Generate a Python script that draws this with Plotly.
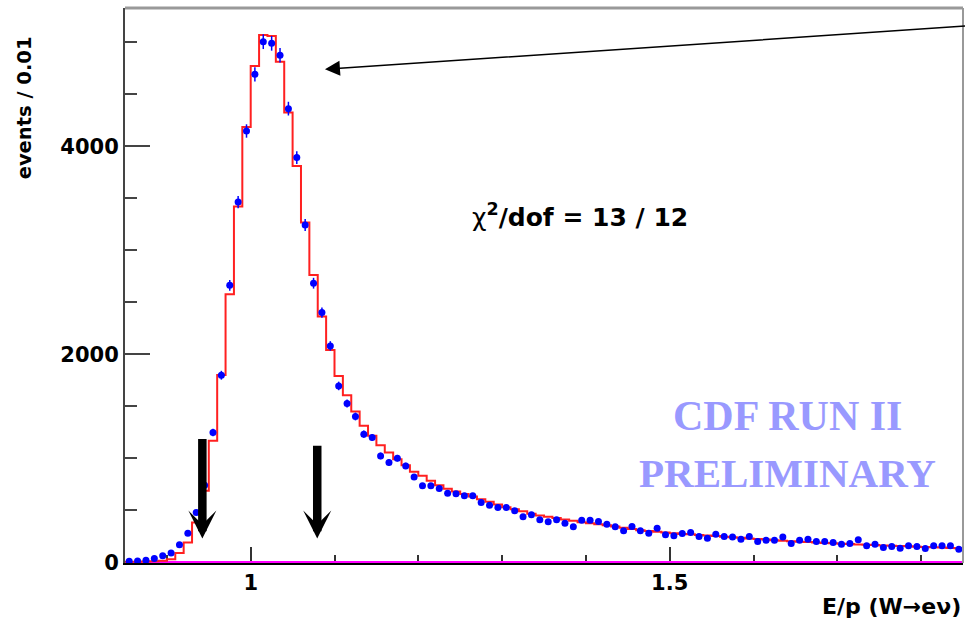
import numpy as np
import plotly.graph_objects as go

# ---- histogram definition (E/p, 100 bins of 0.01 from 0.85 to 1.85) ----
bin_low = 0.85
bin_width = 0.01

# data points (events / 0.01)
data_counts = [
    10, 12, 19, 35, 61, 87, 167, 279, 478, 740,
    1247, 1798, 2663, 3464, 4147, 4692, 5006, 4990, 4875, 4362,
    3891, 3243, 2683, 2401, 2080, 1695, 1526, 1401, 1231, 1199,
    1022, 959, 1000, 926, 820, 734, 734, 708, 663, 657,
    638, 638, 574, 548, 526, 526, 494, 436, 455, 407,
    388, 407, 375, 340, 404, 404, 391, 365, 340, 301,
    343, 301, 279, 327, 263, 253, 276, 285, 247, 231,
    269, 247, 243, 221, 247, 199, 212, 212, 243, 180,
    212, 221, 199, 199, 189, 173, 180, 215, 157, 173,
    141, 151, 135, 157, 151, 131, 157, 157, 157, 125,
]

# fitted template (red histogram)
fit_counts = [
    3, 4, 6, 9, 14, 29, 87, 189, 381, 686,
    1167, 1801, 2577, 3420, 4186, 4772, 5070, 5060, 4814, 4324,
    3811, 3266, 2763, 2362, 2041, 1791, 1606, 1449, 1311, 1215,
    1125, 1054, 990, 933, 870, 830, 782, 740, 705, 680,
    655, 632, 605, 580, 555, 528, 508, 490, 465, 450,
    437, 425, 410, 398, 385, 375, 365, 355, 343, 330,
    318, 308, 300, 292, 285, 278, 272, 268, 262, 257,
    252, 245, 240, 234, 228, 222, 217, 212, 207, 202,
    197, 193, 189, 185, 181, 178, 174, 170, 167, 164,
    161, 158, 155, 152, 149, 146, 143, 140, 137, 134,
]

# background component (magenta, compatible with zero)
background_counts = [0] * 100

x_ticks_major = [1.0, 1.5]
y_ticks_major = [0, 2000, 4000]

n_bins = len(data_counts)
centers = bin_low + bin_width * (np.arange(n_bins) + 0.5)
edges = bin_low + bin_width * np.arange(n_bins + 1)
errors = np.sqrt(np.array(data_counts, dtype=float))

fig = go.Figure()

# magenta background line
fig.add_trace(go.Scatter(
    x=edges, y=list(background_counts) + [background_counts[-1]],
    mode="lines", line=dict(color="#ff00ff", width=2.5, shape="hv"),
    hoverinfo="skip", showlegend=False, cliponaxis=False,
))

# red fit histogram
fig.add_trace(go.Scatter(
    x=edges, y=list(fit_counts) + [fit_counts[-1]],
    mode="lines", line=dict(color="#ff2020", width=2, shape="hv"),
    showlegend=False,
))

# blue data points with errors
fig.add_trace(go.Scatter(
    x=centers, y=data_counts, mode="markers",
    marker=dict(color="#0000ff", size=7, symbol="circle"),
    error_y=dict(type="data", array=errors, color="#0000ff", thickness=1.5, width=0),
    showlegend=False,
))

tick_font = dict(family="DejaVu Sans", size=21, color="black", weight="bold")

fig.update_layout(
    width=965, height=625,
    margin=dict(l=125, r=2, t=8, b=62),
    paper_bgcolor="white", plot_bgcolor="white",
    xaxis=dict(
        range=[bin_low, bin_low + bin_width * n_bins],
        tickmode="array", tickvals=x_ticks_major,
        ticktext=["1", "1.5"],
        ticks="inside", ticklen=16, tickwidth=2, tickcolor="#333",
        minor=dict(dtick=0.1, tick0=0, ticks="inside", ticklen=8, tickwidth=2, tickcolor="#333"),
        showgrid=False, zeroline=False,
        showline=True, linecolor="black", linewidth=2,
        tickfont=tick_font, layer="below traces",
    ),
    yaxis=dict(
        range=[-8, 5330],
        tickmode="array", tickvals=y_ticks_major,
        ticktext=["0", "2000", "4000"],
        ticks="inside", ticklen=25, tickwidth=2, tickcolor="#444",
        minor=dict(dtick=500, tick0=0, ticks="inside", ticklen=12, tickwidth=2, tickcolor="#444"),
        showgrid=False, zeroline=False,
        showline=True, linecolor="#444", linewidth=2,
        tickfont=tick_font, layer="below traces",
    ),
    shapes=[
        dict(type="line", xref="paper", yref="paper", x0=0, x1=1, y0=1, y1=1,
             line=dict(color="#999999", width=3)),
        dict(type="line", xref="paper", yref="paper", x0=1, x1=1, y0=0, y1=1,
             line=dict(color="#999999", width=2)),
    ],
)

annotations = [
    # axis titles
    dict(text="events / 0.01", xref="paper", yref="paper", x=-0.12, y=0.82,
         textangle=-90, showarrow=False, xanchor="center", yanchor="middle",
         font=dict(family="DejaVu Sans", size=19.5, color="black", weight="bold")),
    dict(text="E/p (W\u2192e\u03bd)", xref="paper", yref="paper", x=1.0, y=-0.0775,
         showarrow=False, xanchor="right", yanchor="middle",
         font=dict(family="DejaVu Sans", size=22, color="black", weight="bold")),
    # chi2 label
    dict(text="<span style='font-weight:normal'>\u03c7</span><sup>2</sup>/dof = 13 / 12",
         xref="paper", yref="paper", x=0.543, y=0.627,
         showarrow=False, xanchor="center", yanchor="middle",
         font=dict(family="DejaVu Sans", size=25, color="black", weight="bold")),
    # preliminary stamp
    dict(text="CDF RUN II", xref="paper", yref="paper", x=0.791, y=0.264,
         showarrow=False, xanchor="center", yanchor="middle",
         font=dict(family="Liberation Serif", size=42, color="#9999ff", weight="bold")),
    dict(text="PRELIMINARY", xref="paper", yref="paper", x=0.791, y=0.163,
         showarrow=False, xanchor="center", yanchor="middle",
         font=dict(family="Liberation Serif", size=41, color="#9999ff", weight="bold")),
    # thick arrows marking the window
    dict(text="", x=0.9423, y=228, ax=0.9423, ay=1200, xref="x", yref="y",
         axref="x", ayref="y", showarrow=True, arrowhead=3, arrowwidth=8.5,
         arrowsize=0.55, arrowcolor="black"),
    dict(text="", x=1.0794, y=228, ax=1.0794, ay=1135, xref="x", yref="y",
         axref="x", ayref="y", showarrow=True, arrowhead=3, arrowwidth=8.5,
         arrowsize=0.55, arrowcolor="black"),
    # long thin arrow to the peak
    dict(text="", x=1.0886, y=4740, ax=1.86, ay=5160, xref="x", yref="y",
         axref="x", ayref="y", showarrow=True, arrowhead=2, arrowwidth=1.5,
         arrowsize=2, arrowcolor="black"),
]
fig.update_layout(annotations=annotations)

fig.write_html(
    "out.html",
    config={"displayModeBar": False},
    post_script="document.body.style.margin='0';document.body.style.padding='0';",
)
